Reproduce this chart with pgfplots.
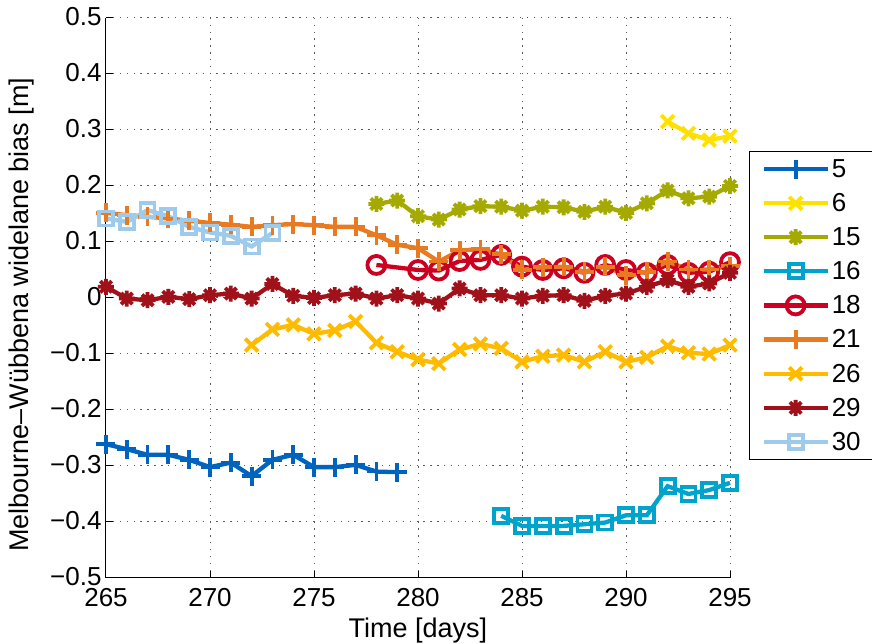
\documentclass[border=0pt]{standalone}
\usepackage{fontspec}
\setmainfont{Liberation Sans}
\usepackage{pgfplots}
\pgfplotsset{compat=1.18}

% eight-armed asterisk (plus and cross combined)
\pgfdeclareplotmark{ast8}{%
  \pgfpathmoveto{\pgfqpoint{-\pgfplotmarksize}{0pt}}%
  \pgfpathlineto{\pgfqpoint{\pgfplotmarksize}{0pt}}%
  \pgfpathmoveto{\pgfqpoint{0pt}{-\pgfplotmarksize}}%
  \pgfpathlineto{\pgfqpoint{0pt}{\pgfplotmarksize}}%
  \pgfpathmoveto{\pgfqpoint{-0.707\pgfplotmarksize}{-0.707\pgfplotmarksize}}%
  \pgfpathlineto{\pgfqpoint{0.707\pgfplotmarksize}{0.707\pgfplotmarksize}}%
  \pgfpathmoveto{\pgfqpoint{-0.707\pgfplotmarksize}{0.707\pgfplotmarksize}}%
  \pgfpathlineto{\pgfqpoint{0.707\pgfplotmarksize}{-0.707\pgfplotmarksize}}%
  \pgfusepathqstroke}

\definecolor{c5}{RGB}{0,100,190}
\definecolor{c6}{RGB}{255,225,0}
\definecolor{c15}{RGB}{165,170,0}
\definecolor{c16}{RGB}{0,163,204}
\definecolor{c18}{RGB}{204,0,32}
\definecolor{c21}{RGB}{232,122,34}
\definecolor{c26}{RGB}{255,187,0}
\definecolor{c29}{RGB}{160,17,26}
\definecolor{c30}{RGB}{158,202,236}

\pgfplotsset{
  sat/.style={line width=4.3pt, mark options={solid, line width=3.8pt}},
}

\begin{document}
\begin{tikzpicture}
\begin{axis}[
  at={(0pt,0pt)}, anchor=south west,
  scale only axis, width=624pt, height=560pt,
  xmin=265, xmax=295, ymin=-0.5, ymax=0.5,
  clip=false,
  axis lines*=left,
  axis line style={line width=1pt},
  xtick={265,270,275,280,285,290,295},
  ytick={-0.5,-0.4,-0.3,-0.2,-0.1,0,0.1,0.2,0.3,0.4,0.5},
  yticklabels={−0.5,−0.4,−0.3,−0.2,−0.1,0,0.1,0.2,0.3,0.4,0.5},
  xticklabels={265,270,275,280,285,290,295},
  tick align=inside,
  major tick length=7pt,
  tick style={line width=1pt, black},
  grid=major,
  grid style={line width=1pt, gray!70!black, dash pattern=on 1.3pt off 5.6pt},
  tick label style={font=\fontsize{26}{30}\selectfont},
  xticklabel style={yshift=-7pt},
  yticklabel style={xshift=-1pt, yshift=1.5pt},
  label style={font=\fontsize{27}{32}\selectfont},
  xlabel={Time [days]},
  ylabel={Melbourne–Wübbena widelane bias [m]},
  xlabel style={at={(axis description cs:0.5,-0.0929)}, anchor=center},
  ylabel style={at={(axis description cs:-0.1346,0.47)}, anchor=center},
  legend style={at={(axis description cs:1.0304,0.7625)}, anchor=north west,
    draw=black, line width=1pt, fill=white,
    font=\fontsize{26}{30}\selectfont, row sep=10.5pt,
    inner xsep=12pt, inner ysep=6pt},
  legend cell align=left,
  legend image code/.code={%
    \draw[mark repeat=2,mark phase=2,#1] plot coordinates {(0pt,0pt) (32pt,0pt) (64pt,0pt)};},
]
% PRN 5
\addplot[sat, c5, mark=+, mark size=9.5pt] coordinates {
(265,-0.261) (266,-0.270) (267,-0.280) (268,-0.280) (269,-0.289) (270,-0.302)
(271,-0.294) (272,-0.318) (273,-0.289) (274,-0.280) (275,-0.302) (276,-0.302)
(277,-0.298) (278,-0.310) (279,-0.311)};
\addlegendentry{5}
% PRN 6
\addplot[sat, c6, mark=x, mark size=9pt] coordinates {
(292,0.315) (293,0.294) (294,0.282) (295,0.289)};
\addlegendentry{6}
% PRN 15
\addplot[sat, c15, mark=ast8, mark size=8pt] coordinates {
(278,0.168) (279,0.174) (280,0.146) (281,0.140) (282,0.158) (283,0.164)
(284,0.163) (285,0.156) (286,0.163) (287,0.162) (288,0.154) (289,0.163)
(290,0.152) (291,0.169) (292,0.192) (293,0.178) (294,0.181) (295,0.200)};
\addlegendentry{15}
% PRN 16
\addplot[sat, c16, mark=square, mark size=7pt] coordinates {
(284,-0.389) (285,-0.407) (286,-0.407) (287,-0.407) (288,-0.404) (289,-0.401)
(290,-0.388) (291,-0.388) (292,-0.336) (293,-0.350) (294,-0.343) (295,-0.330)};
\addlegendentry{16}
% PRN 18
\addplot[sat, c18, mark=o, mark size=9pt] coordinates {
(278,0.059) (280,0.050) (281,0.049) (282,0.066) (283,0.068) (284,0.077)
(285,0.056) (286,0.050) (287,0.053) (288,0.045) (289,0.059) (290,0.050)
(291,0.045) (292,0.059) (293,0.045) (294,0.047) (295,0.064)};
\addlegendentry{18}
% PRN 21
\addplot[sat, c21, mark=+, mark size=9.5pt] coordinates {
(265,0.152) (266,0.148) (267,0.145) (268,0.142) (269,0.138) (270,0.134)
(271,0.131) (272,0.127) (273,0.130) (274,0.132) (275,0.130) (276,0.127)
(277,0.127) (278,0.112) (279,0.095) (280,0.089) (281,0.065) (282,0.085)
(283,0.087) (284,0.078) (285,0.050) (286,0.055) (287,0.056) (288,0.047)
(289,0.056) (290,0.041) (291,0.047) (292,0.065) (293,0.051) (294,0.051)
(295,0.057)};
\addlegendentry{21}
% PRN 26
\addplot[sat, c26, mark=x, mark size=9pt] coordinates {
(272,-0.084) (273,-0.056) (274,-0.048) (275,-0.064) (276,-0.058) (277,-0.042)
(278,-0.080) (279,-0.096) (280,-0.110) (281,-0.117) (282,-0.092) (283,-0.082)
(284,-0.090) (285,-0.114) (286,-0.104) (287,-0.102) (288,-0.114) (289,-0.096)
(290,-0.114) (291,-0.106) (292,-0.086) (293,-0.098) (294,-0.100) (295,-0.084)};
\addlegendentry{26}
% PRN 29
\addplot[sat, c29, mark=ast8, mark size=8pt] coordinates {
(265,0.020) (266,-0.001) (267,-0.004) (268,0.002) (269,-0.002) (270,0.005)
(271,0.008) (272,-0.001) (273,0.025) (274,0.004) (275,0.000) (276,0.005)
(277,0.008) (278,-0.001) (279,0.005) (280,-0.001) (281,-0.010) (282,0.017)
(283,0.005) (284,0.005) (285,-0.001) (286,0.004) (287,0.005) (288,-0.005)
(289,0.004) (290,0.008) (291,0.020) (292,0.032) (293,0.020) (294,0.026)
(295,0.045)};
\addlegendentry{29}
% PRN 30
\addplot[sat, c30, mark=square, mark size=7pt] coordinates {
(265,0.142) (266,0.136) (267,0.157) (268,0.146) (269,0.127) (270,0.117)
(271,0.111) (272,0.092) (273,0.116)};
\addlegendentry{30}
\end{axis}
\pgfresetboundingbox
\useasboundingbox (-106pt,-66pt) rectangle (766pt,578pt);
\end{tikzpicture}
\end{document}
